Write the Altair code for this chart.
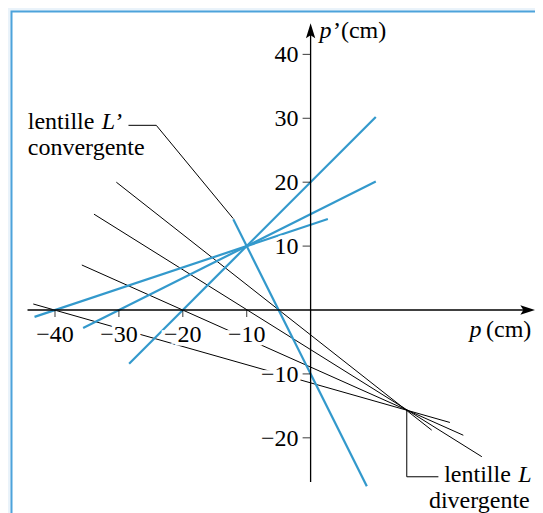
import altair as alt
import pandas as pd

# ---------------- data ----------------
# Convergent lens L' : blue lines, all through (-10, 10)
blue_line = ["a", "a", "b", "b", "c", "c", "d", "d"]
blue_p = [-28.4, 10.2, -43.2, 2.7, -35.6, 10.2, -12.1, 8.8]
blue_q = [-8.4, 30.2, -1.07, 14.23, -2.8, 20.1, 14.2, -27.6]

# Divergent lens L : black lines, all through (15, -15.6)
black_line = ["a", "a", "b", "b", "c", "c", "d", "d"]
black_p = [-43.4, 21.8, -35.8, 23.9, -33.9, 26.8, -30.4, 18.95]
black_q = [0.94, -17.6, 7.04, -19.6, 15.0, -22.96, 20.0, -18.8]

# Leader lines of the two labels
leader_line = ["top", "top", "top", "bottom", "bottom", "bottom"]
leader_p = [-28.5, -24.15, -12.1, 15.05, 15.05, 20.0]
leader_q = [28.9, 28.9, 14.3, -15.6, -26.1, -26.1]
leader_order = [0, 1, 2, 0, 1, 2]

# Axes
xtick_values = [-40, -30, -20, -10]
xtick_labels = ["\u221240", "\u221230", "\u221220", "\u221210"]
ytick_values = [40, 30, 20, 10, -10, -20]
ytick_labels = ["40", "30", "20", "10", "\u221210", "\u221220"]
x_axis_extent = [-44.3, 34.0]
y_axis_extent = [-26.9, 43.7]

# Texts
roman_text = ["lentille", "convergente", "lentille", "\u2019(cm)", "(cm)"]
roman_p = [-44.26, -44.26, 20.9, 3.5, 27.45]
roman_q = [28.35, 24.2, -26.87, 42.57, -4.23]
italic_text = ["L\u2019", "L", "p", "p"]
italic_p = [-32.7, 32.5, 1.38, 24.86]
italic_q = [28.35, -26.87, 42.57, -4.23]
right_text = ["divergente"]
right_p = [34.3]
right_q = [-30.94]

# ---------------- chart ----------------
W, H = 527, 505
FONT = "Liberation Serif, Times New Roman, DejaVu Serif, serif"
FS = 24
BLUE = "#3399CC"
xs = alt.Scale(domain=[-47.355, 35.117], nice=False, zero=False)
ys = alt.Scale(domain=[-31.768, 47.261], nice=False, zero=False)


def X(f="p"):
    return alt.X(f"{f}:Q", scale=xs, axis=None)


def Y(f="q"):
    return alt.Y(f"{f}:Q", scale=ys, axis=None)


frame = alt.Chart(pd.DataFrame({"k": [0]})).mark_rect(
    fill="white", stroke="#4DA3DB", strokeWidth=2
).encode(x=alt.value(3.5), x2=alt.value(900), y=alt.value(3.5), y2=alt.value(900))

black_df = pd.DataFrame({"line": black_line, "p": black_p, "q": black_q})
black = alt.Chart(black_df).mark_line(color="black", strokeWidth=1).encode(
    x=X(), y=Y(), detail="line:N"
)

leader_df = pd.DataFrame(
    {"line": leader_line, "p": leader_p, "q": leader_q, "o": leader_order}
)
leader = alt.Chart(leader_df).mark_line(color="black", strokeWidth=1).encode(
    x=X(), y=Y(), detail="line:N", order="o:Q"
)

blue_df = pd.DataFrame({"line": blue_line, "p": blue_p, "q": blue_q})
blue = alt.Chart(blue_df).mark_line(color=BLUE, strokeWidth=2.2).encode(
    x=X(), y=Y(), detail="line:N"
)

axes_df = pd.DataFrame(
    {
        "p": [x_axis_extent[0], 0],
        "p2": [x_axis_extent[1], 0],
        "q": [0, y_axis_extent[0]],
        "q2": [0, y_axis_extent[1]],
    }
)
axes = alt.Chart(axes_df).mark_rule(color="black", strokeWidth=1.3).encode(
    x=X(), x2="p2:Q", y=Y(), y2="q2:Q"
)

arrow_x = alt.Chart(pd.DataFrame({"p": [x_axis_extent[1]], "q": [0]})).mark_point(
    shape="M1,0 L-1,-0.62 L-0.6,0 L-1,0.62 Z", size=225, filled=True,
    color="black", opacity=1
).encode(x=X(), y=Y())
arrow_y = alt.Chart(pd.DataFrame({"p": [0], "q": [y_axis_extent[1]]})).mark_point(
    shape="M0,-1 L-0.62,1 L0,0.6 L0.62,1 Z", size=225, filled=True,
    color="black", opacity=1
).encode(x=X(), y=Y())

xt_df = pd.DataFrame({"p": xtick_values, "q": [0] * 4, "t": xtick_labels})
yt_df = pd.DataFrame({"p": [0] * 6, "q": ytick_values, "t": ytick_labels})

xticks = alt.Chart(xt_df).mark_tick(
    orient="vertical", size=7, yOffset=3.5, color="black", thickness=1.1
).encode(x=X(), y=Y())
yticks = alt.Chart(yt_df).mark_tick(
    orient="horizontal", size=8, xOffset=-4, color="black", thickness=1.1
).encode(x=X(), y=Y())

tick_text = dict(font=FONT, fontSize=FS, baseline="alphabetic")
xl_halo = alt.Chart(xt_df).mark_text(
    align="center", dy=31.7, stroke="white", strokeWidth=7, **tick_text
).encode(x=X(), y=Y(), text="t:N")
xl = alt.Chart(xt_df).mark_text(
    align="center", dy=31.7, color="black", **tick_text
).encode(x=X(), y=Y(), text="t:N")
yl_halo = alt.Chart(yt_df).mark_text(
    align="right", dx=-12, dy=8, stroke="white", strokeWidth=7, **tick_text
).encode(x=X(), y=Y(), text="t:N")
yl = alt.Chart(yt_df).mark_text(
    align="right", dx=-12, dy=8, color="black", **tick_text
).encode(x=X(), y=Y(), text="t:N")

roman = alt.Chart(
    pd.DataFrame({"p": roman_p, "q": roman_q, "t": roman_text})
).mark_text(align="left", color="black", **tick_text).encode(
    x=X(), y=Y(), text="t:N"
)
italic = alt.Chart(
    pd.DataFrame({"p": italic_p, "q": italic_q, "t": italic_text})
).mark_text(align="left", fontStyle="italic", color="black", **tick_text).encode(
    x=X(), y=Y(), text="t:N"
)
right = alt.Chart(
    pd.DataFrame({"p": right_p, "q": right_q, "t": right_text})
).mark_text(align="right", color="black", **tick_text).encode(
    x=X(), y=Y(), text="t:N"
)

chart = (
    alt.layer(
        frame, black, leader, blue, axes, arrow_x, arrow_y, xticks, yticks,
        xl_halo, xl, yl_halo, yl, roman, italic, right,
    )
    .properties(
        width=W, height=H, background="#EAF3FA",
        padding={"left": 0, "top": 0, "right": 0, "bottom": 0},
        autosize=alt.AutoSizeParams(type="none"),
    )
    .configure_view(stroke=None)
)

chart.save("out.html", embed_options={"renderer": "svg", "actions": False})
